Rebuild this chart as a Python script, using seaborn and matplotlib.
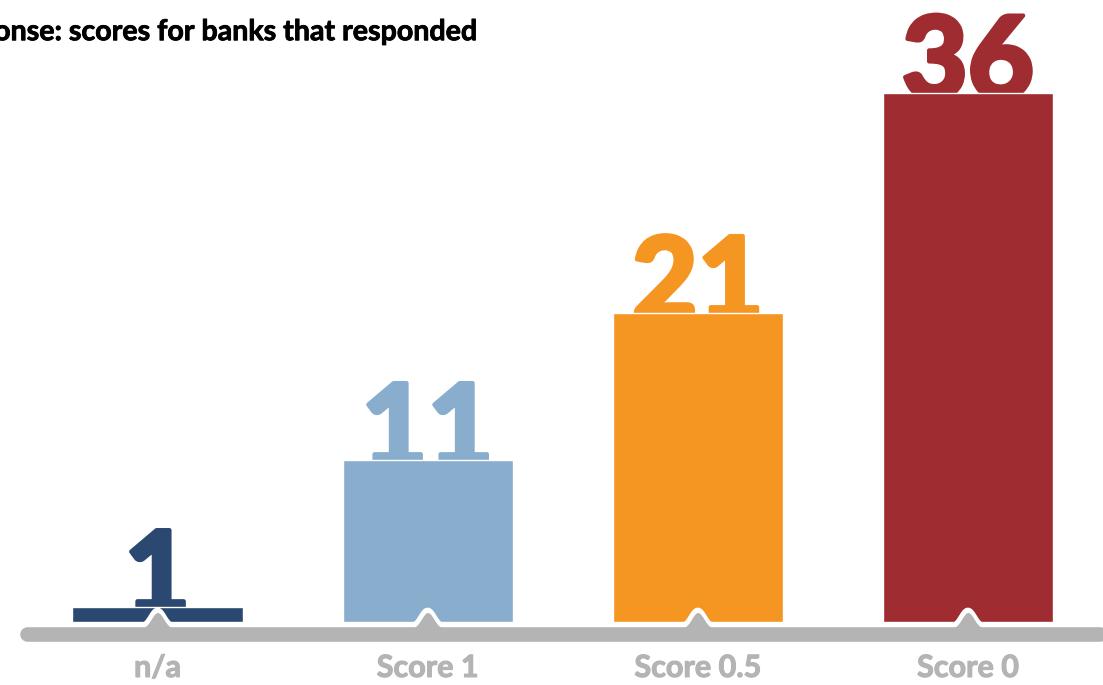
import numpy as np
import pandas as pd
import matplotlib.pyplot as plt
import matplotlib.patheffects as pe
import seaborn as sns

categories = ["n/a", "Score 1", "Score 0.5", "Score 0"]
counts = [1, 11, 21, 36]
bar_colors = ["#2b4870", "#88adcd", "#f59622", "#9e2c31"]
title = "Response: scores for banks that responded"

sns.set_theme(style="white")
plt.rcParams["font.family"] = ["Lato", "DejaVu Sans"]

df = pd.DataFrame({"category": categories, "count": counts})

fig = plt.figure(figsize=(11.03, 6.85), dpi=100)
ax = fig.add_axes([0, 0, 1, 1])
sns.barplot(data=df, x="category", y="count", hue="category", palette=bar_colors,
            width=0.63, legend=False, saturation=1, ax=ax, zorder=2)

ax.set_xlim(-0.583, 3.50)
ax.set_ylim(-4.29, 42.3)
ax.axis("off")

grey = "#b4b4b4"
base_y = -0.82
# baseline with rounded ends
ax.plot([-0.483, 3.489], [base_y, base_y], color=grey, lw=10.5,
        solid_capstyle="round", zorder=4)

# small bumps under each tick
for i in range(len(categories)):
    dx = np.linspace(-0.09, 0.09, 120)
    bump = base_y + 0.36 + 1.1 * np.exp(-(dx / 0.032) ** 2)
    ax.plot(i + dx, bump + 0.12, color="white", lw=4.5, zorder=3,
            solid_capstyle="round")
    ax.fill_between(i + dx, base_y, bump, color=grey, lw=0, zorder=4)

# big value labels, tucked behind the top of each bar
for i, (v, c) in enumerate(zip(counts, bar_colors)):
    ax.annotate(str(v), (i, v), xytext=(0, -4), textcoords="offset points",
                ha="center", va="baseline", fontsize=82, fontweight="black",
                color=c, zorder=1,
                path_effects=[pe.withStroke(linewidth=3, foreground=c)])

# category labels
for i, lab in enumerate(categories):
    ax.text(i, -3.13, lab, ha="center", va="center", fontsize=22,
            fontweight="bold", color=grey,
            path_effects=[pe.withStroke(linewidth=0.8, foreground=grey)])

fig.text(-0.062, 0.953, title, ha="left", va="center", fontsize=20.6,
         fontweight="bold", color="black",
         path_effects=[pe.withStroke(linewidth=0.6, foreground="black")])

fig.savefig("out.png", dpi=100)
